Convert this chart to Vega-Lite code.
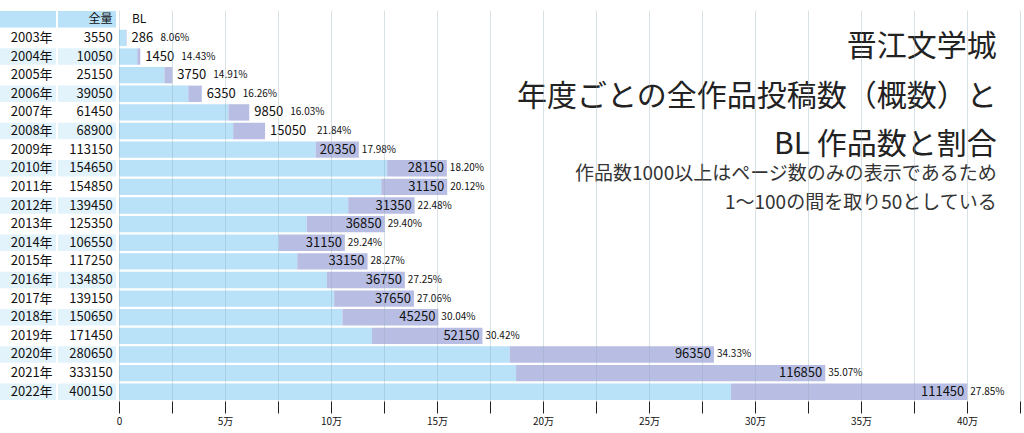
{
  "$schema": "https://vega.github.io/schema/vega-lite/v6.json",
  "width": 1024,
  "height": 433,
  "autosize": {"type": "fit", "contains": "padding"},
  "padding": {"top": 10, "left": 0, "right": 0, "bottom": 7},
  "background": "white",
  "config": {
    "view": {"stroke": null},
    "font": "Noto Sans CJK JP",
    "text": {"font": "Noto Sans CJK JP"}
  },
  "data": {
    "values": [
      {"label": "2003年", "total": 3550, "bl": 286, "nonbl": 3264, "pct": "8.06%"},
      {"label": "2004年", "total": 10050, "bl": 1450, "nonbl": 8600, "pct": "14.43%"},
      {"label": "2005年", "total": 25150, "bl": 3750, "nonbl": 21400, "pct": "14.91%"},
      {"label": "2006年", "total": 39050, "bl": 6350, "nonbl": 32700, "pct": "16.26%"},
      {"label": "2007年", "total": 61450, "bl": 9850, "nonbl": 51600, "pct": "16.03%"},
      {"label": "2008年", "total": 68900, "bl": 15050, "nonbl": 53850, "pct": "21.84%"},
      {"label": "2009年", "total": 113150, "bl": 20350, "nonbl": 92800, "pct": "17.98%"},
      {"label": "2010年", "total": 154650, "bl": 28150, "nonbl": 126500, "pct": "18.20%"},
      {"label": "2011年", "total": 154850, "bl": 31150, "nonbl": 123700, "pct": "20.12%"},
      {"label": "2012年", "total": 139450, "bl": 31350, "nonbl": 108100, "pct": "22.48%"},
      {"label": "2013年", "total": 125350, "bl": 36850, "nonbl": 88500, "pct": "29.40%"},
      {"label": "2014年", "total": 106550, "bl": 31150, "nonbl": 75400, "pct": "29.24%"},
      {"label": "2015年", "total": 117250, "bl": 33150, "nonbl": 84100, "pct": "28.27%"},
      {"label": "2016年", "total": 134850, "bl": 36750, "nonbl": 98100, "pct": "27.25%"},
      {"label": "2017年", "total": 139150, "bl": 37650, "nonbl": 101500, "pct": "27.06%"},
      {"label": "2018年", "total": 150650, "bl": 45250, "nonbl": 105400, "pct": "30.04%"},
      {"label": "2019年", "total": 171450, "bl": 52150, "nonbl": 119300, "pct": "30.42%"},
      {"label": "2020年", "total": 280650, "bl": 96350, "nonbl": 184300, "pct": "34.33%"},
      {"label": "2021年", "total": 333150, "bl": 116850, "nonbl": 187300, "pct": "35.07%"},
      {"label": "2022年", "total": 400150, "bl": 111450, "nonbl": 288700, "pct": "27.85%"}
    ]
  },
  "encoding": {
    "y": {
      "field": "label",
      "type": "nominal",
      "axis": null,
      "scale": {
        "domain": ["header", "2003年", "2004年", "2005年", "2006年", "2007年", "2008年", "2009年", "2010年", "2011年", "2012年", "2013年", "2014年", "2015年", "2016年", "2017年", "2018年", "2019年", "2020年", "2021年", "2022年"],
        "paddingInner": 0.12,
        "paddingOuter": 0.06
      }
    }
  },
  "layer": [
    {
      "mark": {"type": "bar", "color": "#b9e2f8"},
      "encoding": {
        "x": {
          "field": "nonbl",
          "type": "quantitative",
          "scale": {"domain": [-56130, 426900], "nice": false, "zero": false},
          "axis": {
            "values": [0, 25000, 50000, 75000, 100000, 125000, 150000, 175000, 200000, 225000, 250000, 275000, 300000, 325000, 350000, 375000, 400000, 425000],
            "labelExpr": "datum.value == 0 ? '0' : (datum.value % 50000 == 0 ? (datum.value / 10000) + '万' : '')",
            "domain": false,
            "tickColor": "#222",
            "tickSize": 12,
            "labelFontSize": 10,
            "labelColor": "#111",
            "labelPadding": 3,
            "grid": true,
            "gridColor": "#90a8b8",
            "gridOpacity": 0.35,
            "zindex": 1,
            "title": null
          }
        },
        "x2": {"datum": 0}
      }
    },
    {
      "mark": {"type": "bar", "color": "#b8bee3"},
      "encoding": {
        "x": {"field": "nonbl", "type": "quantitative"},
        "x2": {"field": "total"}
      }
    },
    {
      "mark": {"type": "bar"},
      "encoding": {
        "x": {"datum": -56130},
        "x2": {"datum": -29700},
        "color": {"condition": {"test": "parseInt(datum.label) % 2 == 0", "value": "#e2f3fc"}, "value": "#ffffff"}
      }
    },
    {
      "mark": {"type": "bar"},
      "encoding": {
        "x": {"datum": -28770},
        "x2": {"datum": -1415},
        "color": {"condition": {"test": "parseInt(datum.label) % 2 == 0", "value": "#e2f3fc"}, "value": "#ffffff"}
      }
    },
    {
      "mark": {"type": "text", "align": "right", "fontSize": 13, "color": "#111"},
      "encoding": {"x": {"datum": -31300}, "text": {"field": "label"}}
    },
    {
      "mark": {"type": "text", "align": "right", "fontSize": 13, "color": "#111"},
      "encoding": {"x": {"datum": -3000}, "text": {"field": "total"}}
    },
    {
      "transform": [{"filter": "datum.total > 100000"}],
      "mark": {"type": "text", "align": "right", "dx": -3, "fontSize": 13, "color": "#111"},
      "encoding": {"x": {"field": "total", "type": "quantitative"}, "text": {"field": "bl"}}
    },
    {
      "transform": [{"filter": "datum.total > 100000"}],
      "mark": {"type": "text", "align": "left", "dx": 3, "fontSize": 10, "color": "#111"},
      "encoding": {"x": {"field": "total", "type": "quantitative"}, "text": {"field": "pct"}}
    },
    {
      "transform": [{"filter": "datum.total <= 100000"}],
      "mark": {"type": "text", "align": "left", "dx": 5, "fontSize": 13, "color": "#111"},
      "encoding": {"x": {"field": "total", "type": "quantitative"}, "text": {"field": "bl"}}
    },
    {
      "transform": [{"filter": "datum.bl < 1000"}],
      "mark": {"type": "text", "align": "left", "dx": 34, "fontSize": 10, "color": "#111"},
      "encoding": {"x": {"field": "total", "type": "quantitative"}, "text": {"field": "pct"}}
    },
    {
      "transform": [{"filter": "datum.bl >= 1000 && datum.bl < 10000"}],
      "mark": {"type": "text", "align": "left", "dx": 41, "fontSize": 10, "color": "#111"},
      "encoding": {"x": {"field": "total", "type": "quantitative"}, "text": {"field": "pct"}}
    },
    {
      "transform": [{"filter": "datum.bl >= 10000 && datum.total <= 100000"}],
      "mark": {"type": "text", "align": "left", "dx": 52, "fontSize": 10, "color": "#111"},
      "encoding": {"x": {"field": "total", "type": "quantitative"}, "text": {"field": "pct"}}
    },
    {
      "data": {"values": [{"label": "header"}]},
      "layer": [
        {
          "mark": {"type": "bar", "color": "#b9e2f8"},
          "encoding": {"x": {"datum": -56130}, "x2": {"datum": -29700}}
        },
        {
          "mark": {"type": "bar", "color": "#b9e2f8"},
          "encoding": {"x": {"datum": -28770}, "x2": {"datum": -1415}}
        },
        {
          "mark": {"type": "text", "align": "right", "fontSize": 12, "color": "#111", "text": "全量"},
          "encoding": {"x": {"datum": -3000}}
        },
        {
          "mark": {"type": "text", "align": "left", "fontSize": 12, "color": "#111", "text": "BL"},
          "encoding": {"x": {"datum": 6100}}
        }
      ]
    },
    {
      "data": {"values": [{"label": "2003年", "line": "晋江文学城"}]},
      "mark": {"type": "text", "align": "right", "fontSize": 30, "color": "#222", "dy": 9},
      "encoding": {"x": {"datum": 414000}, "text": {"field": "line"}}
    },
    {
      "data": {"values": [{"label": "2006年", "line": "年度ごとの全作品投稿数（概数）と"}]},
      "mark": {"type": "text", "align": "right", "fontSize": 30, "color": "#222", "dy": 3},
      "encoding": {"x": {"datum": 414000}, "text": {"field": "line"}}
    },
    {
      "data": {"values": [{"label": "2009年", "line": "BL 作品数と割合"}]},
      "mark": {"type": "text", "align": "right", "fontSize": 30, "color": "#222", "dy": -5},
      "encoding": {"x": {"datum": 414000}, "text": {"field": "line"}}
    },
    {
      "data": {"values": [{"label": "2010年", "line": "作品数1000以上はページ数のみの表示であるため"}]},
      "mark": {"type": "text", "align": "right", "fontSize": 19, "color": "#333", "dy": 6},
      "encoding": {"x": {"datum": 414000}, "text": {"field": "line"}}
    },
    {
      "data": {"values": [{"label": "2012年", "line": "1～100の間を取り50としている"}]},
      "mark": {"type": "text", "align": "right", "fontSize": 19, "color": "#333", "dy": -3},
      "encoding": {"x": {"datum": 414000}, "text": {"field": "line"}}
    }
  ]
}
